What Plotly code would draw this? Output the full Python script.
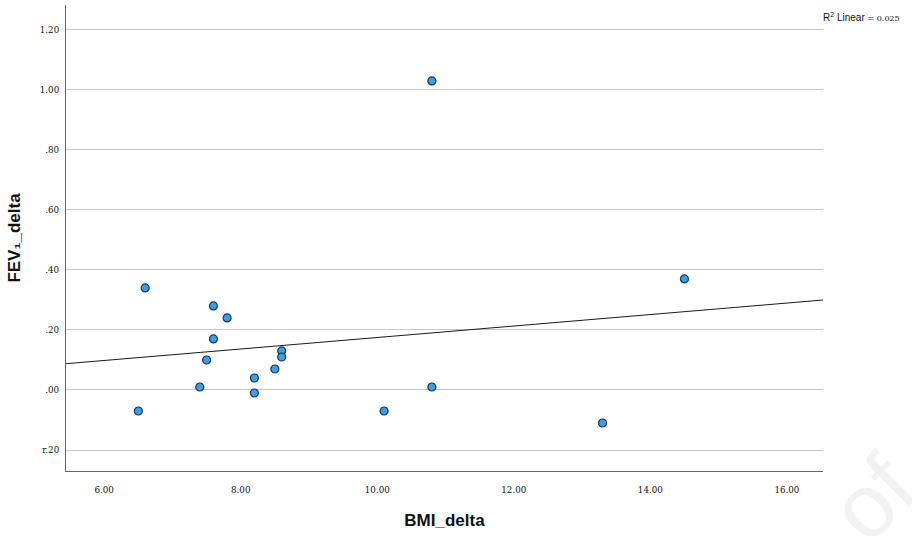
import numpy as np
import plotly.graph_objects as go

bmi_delta = [6.50, 6.60, 7.60, 7.80, 7.60, 7.50, 7.40, 8.20, 8.20, 8.50, 8.60, 8.60, 10.10, 10.80, 10.80, 13.30, 14.50]
fev1_delta = [-0.07, 0.34, 0.28, 0.24, 0.17, 0.10, 0.01, 0.04, -0.01, 0.07, 0.13, 0.11, -0.07, 1.03, 0.01, -0.11, 0.37]

y_tickvals = [-0.2, 0.0, 0.2, 0.4, 0.6, 0.8, 1.0, 1.2]
y_ticktext = ["r.20", ".00", ".20", ".40", ".60", ".80", "1.00", "1.20"]
x_tickvals = [6, 8, 10, 12, 14, 16]
x_ticktext = ["6.00", "8.00", "10.00", "12.00", "14.00", "16.00"]

x_range = [5.44, 16.53]
y_range = [-0.27, 1.283]

slope, intercept = np.polyfit(bmi_delta, fev1_delta, 1)

fig = go.Figure()
fig.add_trace(go.Scatter(
    x=x_range, y=[slope * x_range[0] + intercept, slope * x_range[1] + intercept],
    mode="lines", line=dict(color="#1a1a1a", width=1), hoverinfo="skip", showlegend=False))
fig.add_trace(go.Scatter(
    x=bmi_delta, y=fev1_delta, mode="markers",
    marker=dict(size=8, color="#3c9fe6", line=dict(color="#1b3550", width=1.2)),
    showlegend=False))

tickfont = dict(family="DejaVu Serif, Liberation Serif, serif", size=8.7, color="#111")
fig.update_layout(
    width=912, height=536,
    margin=dict(l=66, r=89, t=5, b=65),
    paper_bgcolor="white", plot_bgcolor="white",
    xaxis=dict(range=x_range, tickvals=x_tickvals, ticktext=x_ticktext, tickfont=tickfont,
               showgrid=False, zeroline=False, showline=True, linecolor="#666", linewidth=1.2,
               ticks="", ticklabelstandoff=10,
               title=dict(text="<b>BMI_delta</b>", font=dict(family="Liberation Sans, Arial, sans-serif", size=17, color="#111"), standoff=20)),
    yaxis=dict(range=y_range, tickvals=y_tickvals, ticktext=y_ticktext, tickfont=tickfont,
               showgrid=True, gridcolor="#c8c8c8", gridwidth=1.3, zeroline=False,
               showline=True, linecolor="#666", linewidth=1.2, ticks="", ticklabelstandoff=4,
               title=dict(text="<b>FEV₁_delta</b>", font=dict(family="Liberation Sans, Arial, sans-serif", size=17, color="#111"), standoff=14)),
    annotations=[
        dict(xref="paper", yref="paper", x=1.0, y=1.0, xanchor="left", yanchor="top", xshift=-2, yshift=-4,
             text="R<sup>2</sup> Linear <span style='font-family:DejaVu Serif;font-size:8px'>= 0.025</span>",
             showarrow=False, font=dict(family="Liberation Sans, Arial, sans-serif", size=10, color="#111")),
        dict(xref="paper", yref="paper", x=1.152, y=-0.198, text="of", showarrow=False, textangle=-45,
             font=dict(family="Liberation Sans, Arial, sans-serif", size=90, color="#f2f2f2")),
    ],
)
fig.write_html("out.html", config={"displayModeBar": False},
               post_script="document.body.style.margin='0';")
